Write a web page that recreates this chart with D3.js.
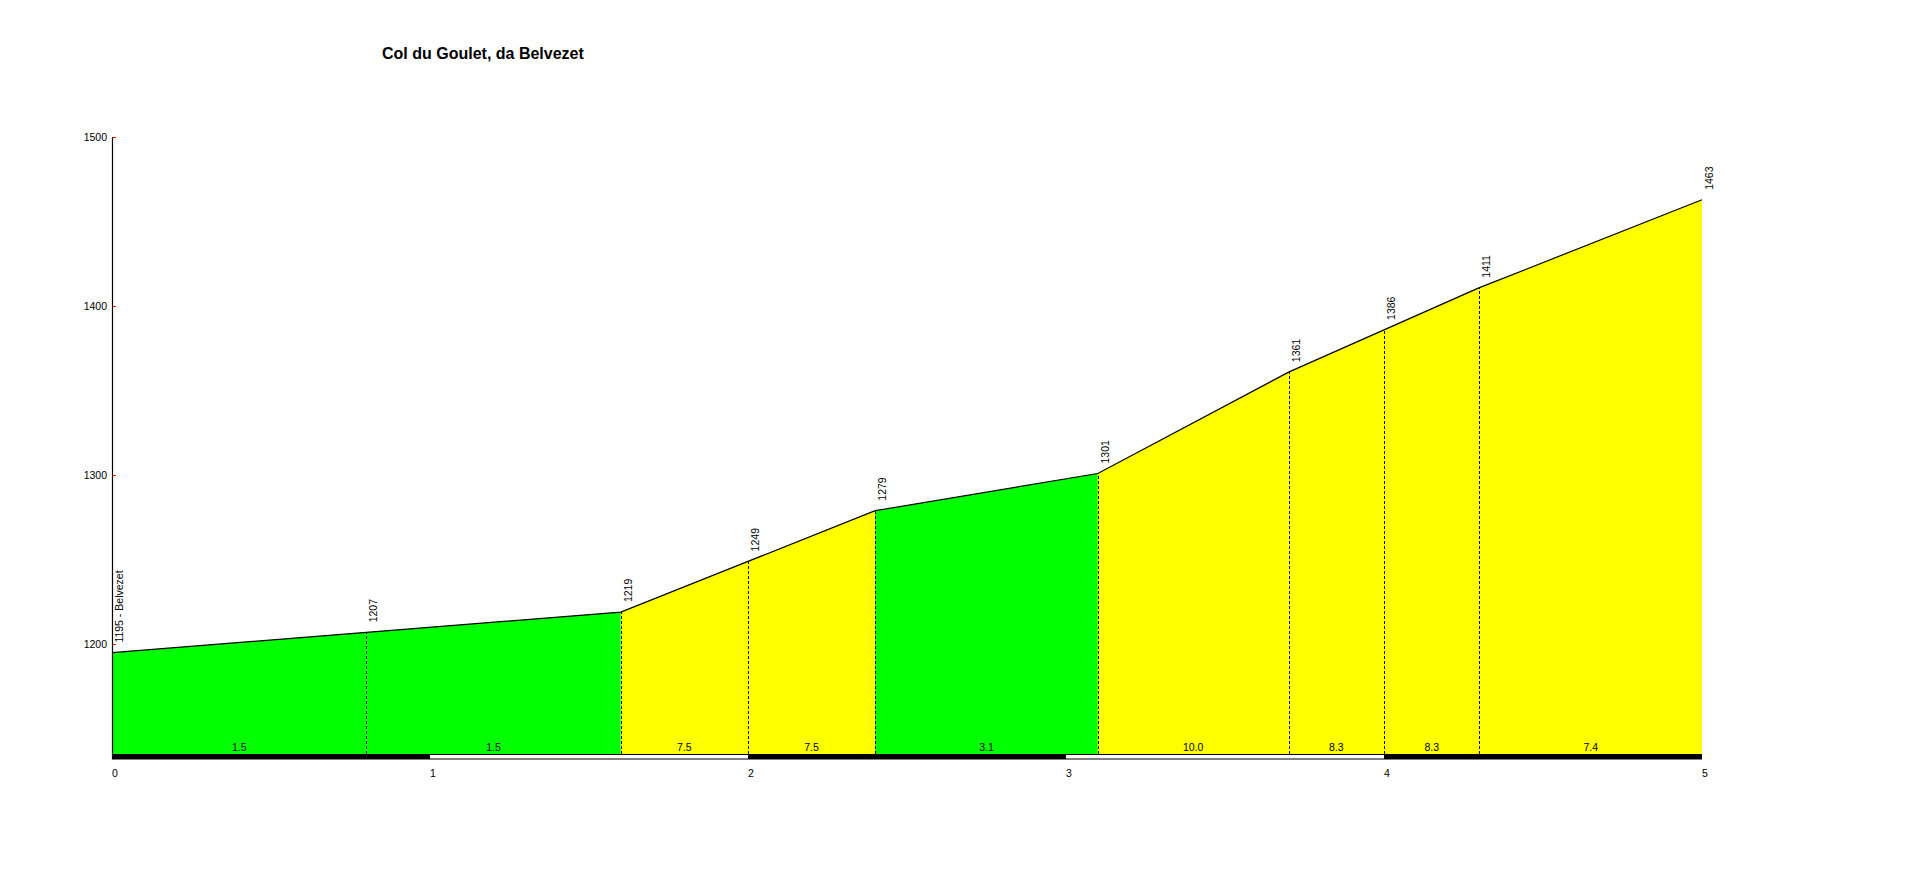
<!DOCTYPE html>
<html><head><meta charset="utf-8">
<script src="https://cdn.jsdelivr.net/npm/d3@7"></script>
<style>
html,body{margin:0;padding:0;background:#fff;}
text{font-family:"Liberation Sans",Arial,sans-serif;}
</style></head>
<body>
<svg id="chart" width="1908" height="881"></svg>
<script>
const title = "Col du Goulet, da Belvezet";
const km = [0, 0.8, 1.6, 2.0, 2.4, 3.1, 3.7, 4.0, 4.3, 5.0];
const elevation = [1195, 1207, 1219, 1249, 1279, 1301, 1361, 1386, 1411, 1463];
const pointLabels = ["1195 - Belvezet", "1207", "1219", "1249", "1279", "1301", "1361", "1386", "1411", "1463"];
const gradientLabels = ["1.5", "1.5", "7.5", "7.5", "3.1", "10.0", "8.3", "8.3", "7.4"];
const segmentColors = ["#00ff00", "#00ff00", "#ffff00", "#ffff00", "#00ff00", "#ffff00", "#ffff00", "#ffff00", "#ffff00"];
const yTicks = [1200, 1300, 1400, 1500];
const xTicks = [0, 1, 2, 3, 4, 5];

const svg = d3.select("#chart");
const x = d3.scaleLinear().domain([0, 5]).range([112, 1702]);
const y = d3.scaleLinear().domain([1135, 1500]).range([754, 137.3]);
const base = 754;

// title
svg.append("text").attr("x", 382).attr("y", 59).attr("font-size", 16).attr("font-weight", "bold")
  .attr("fill", "#000").text(title);

// segments fill
const area = d3.area().x(d => x(d[0])).y0(base).y1(d => y(d[1]));
for (let i = 0; i < km.length - 1; i++) {
  svg.append("path")
    .attr("d", area([[km[i], elevation[i]], [km[i + 1], elevation[i + 1]]]))
    .attr("fill", segmentColors[i]);
}

// dashed verticals
for (let i = 1; i < km.length - 1; i++) {
  svg.append("line")
    .attr("x1", Math.round(x(km[i])) + 0.5).attr("x2", Math.round(x(km[i])) + 0.5)
    .attr("y1", base).attr("y2", y(elevation[i]))
    .attr("stroke", "#000").attr("stroke-width", 1).attr("stroke-dasharray", "3,2");
}

// profile line
const line = d3.line().x(d => x(d[0])).y(d => y(d[1]));
svg.append("path").attr("d", line(km.map((k, i) => [k, elevation[i]])))
  .attr("fill", "none").attr("stroke", "#000").attr("stroke-width", 1.2);

// gradient labels
for (let i = 0; i < km.length - 1; i++) {
  svg.append("text").attr("x", x((km[i] + km[i + 1]) / 2)).attr("y", 751)
    .attr("text-anchor", "middle").attr("font-size", 10.5).attr("fill", "#000").text(gradientLabels[i]);
}

// elevation labels (rotated)
pointLabels.forEach((lab, i) => {
  const px = x(km[i]) + 11, py = y(elevation[i]) - 10;
  svg.append("text").attr("transform", `translate(${px},${py}) rotate(-90)`)
    .attr("font-size", 10.5).attr("fill", "#000").text(lab);
});

// km bar
for (let k = 0; k < 5; k++) {
  svg.append("rect").attr("x", x(k)).attr("y", base).attr("width", x(k + 1) - x(k)).attr("height", 5.5)
    .attr("fill", "#000");
  if (k % 2 === 1) {
    svg.append("rect").attr("x", x(k)).attr("y", base + 1).attr("width", x(k + 1) - x(k)).attr("height", 3.5)
      .attr("fill", "#fff");
  }
}

// x tick labels
xTicks.forEach(t => {
  svg.append("text").attr("x", x(t)).attr("y", 777).attr("font-size", 10.5).attr("fill", "#000").text(t);
});

// y axis
svg.append("line").attr("x1", 112.5).attr("x2", 112.5).attr("y1", y(1500)).attr("y2", base + 5)
  .attr("stroke", "#000").attr("stroke-width", 1.2);
yTicks.forEach(t => {
  svg.append("line").attr("x1", 113).attr("x2", 116).attr("y1", Math.round(y(t)) + 0.5).attr("y2", Math.round(y(t)) + 0.5)
    .attr("stroke", "#ff0000").attr("stroke-width", 1);
  svg.append("text").attr("x", 107).attr("y", y(t) + 4).attr("text-anchor", "end")
    .attr("font-size", 10.5).attr("fill", "#000").text(t);
});
</script>
</body></html>
